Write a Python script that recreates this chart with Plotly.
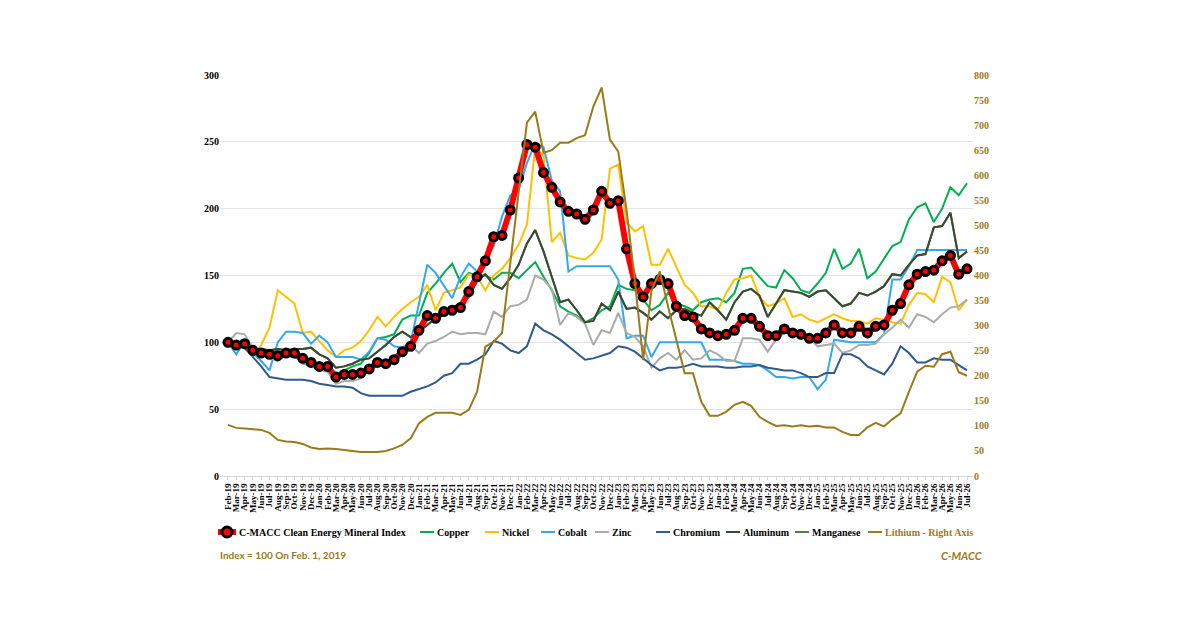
import pandas as pd
import plotly.graph_objects as go

# Meses (Feb-19 .. Jul-26)
months = pd.date_range("2019-02-01", periods=90, freq="MS").strftime("%b-%y").tolist()

# Series (indice = 100 en Feb-19)
index_vals = [100, 98, 99, 94, 92, 91, 90, 92, 92, 88, 85, 82, 82, 74, 76, 76, 77, 80, 85, 84, 87, 93, 97,
              109, 120, 118, 123, 124, 126, 138, 149, 161, 179, 180, 199, 223, 248, 246, 227, 216, 205, 198, 196, 192, 199,
              213, 204, 206, 170, 144, 134, 144, 147, 144, 127, 120, 119, 110, 107, 105, 106, 109, 118, 118, 112, 105, 105, 110,
              107, 106, 103, 103, 107, 113, 107, 107, 112, 107, 112, 113, 124, 129, 143, 151, 153, 154, 161, 165, 151, 155]
copper = [100, 97, 96, 93, 91, 90, 89, 90, 89, 86, 86, 82, 79, 76, 79, 82, 84, 92, 103, 104, 106, 117, 120,
          120, 137, 144, 152, 159, 145, 152, 150, 150, 147, 152, 152, 148, 154, 160, 149, 139, 127, 123, 120, 115, 118,
          124, 127, 143, 140, 139, 132, 124, 128, 137, 129, 127, 124, 130, 132, 133, 130, 137, 155, 156, 149, 142, 141, 154,
          148, 139, 137, 144, 152, 170, 155, 159, 170, 148, 153, 163, 172, 175, 192, 201, 204, 190, 200, 216, 210, 219]
nickel = [100, 98, 95, 90, 98, 111, 139, 134, 129, 107, 108, 101, 94, 89, 94, 96, 101, 109, 119, 112, 119, 125, 130,
          134, 143, 124, 137, 139, 141, 151, 149, 139, 150, 155, 163, 173, 188, 246, 240, 175, 182, 165, 163, 162, 167,
          177, 230, 233, 190, 183, 187, 158, 158, 170, 157, 143, 137, 127, 127, 124, 137, 147, 148, 150, 134, 127, 129, 133,
          119, 121, 117, 115, 118, 121, 118, 116, 116, 114, 118, 117, 115, 114, 128, 137, 136, 130, 149, 145, 124, 132]
cobalt = [100, 91, 101, 92, 86, 79, 100, 108, 108, 107, 99, 105, 100, 89, 89, 89, 87, 93, 103, 102, 97, 96, 100,
          128, 158, 152, 142, 133, 149, 159, 153, 162, 172, 194, 210, 214, 234, 249, 246, 221, 213, 153, 157, 157, 157,
          157, 157, 147, 103, 105, 105, 89, 100, 100, 100, 100, 100, 100, 87, 87, 87, 86, 84, 84, 83, 79, 74, 74,
          73, 74, 74, 65, 72, 102, 101, 100, 100, 100, 100, 106, 147, 147, 157, 169, 169, 169, 169, 169, 169, 169]
zinc = [100, 107, 106, 96, 91, 88, 86, 94, 91, 84, 83, 79, 78, 69, 71, 71, 73, 79, 86, 84, 88, 96, 98,
        92, 99, 101, 104, 108, 106, 107, 107, 106, 123, 119, 127, 128, 132, 150, 147, 140, 113, 122, 119, 114, 98,
        109, 107, 122, 107, 104, 97, 81, 88, 92, 87, 94, 87, 88, 94, 91, 86, 86, 103, 103, 102, 93, 102, 107,
        108, 109, 103, 97, 98, 99, 92, 94, 98, 98, 99, 106, 111, 117, 111, 121, 119, 115, 121, 126, 127, 132]
chromium = [100, 97, 96, 89, 82, 74, 73, 72, 72, 72, 71, 69, 68, 67, 67, 66, 62, 60, 60, 60, 60, 60, 63,
            65, 67, 70, 75, 77, 84, 84, 87, 91, 101, 99, 94, 92, 97, 114, 109, 106, 102, 97, 92, 87, 88,
            90, 92, 97, 96, 93, 88, 83, 79, 81, 81, 82, 84, 82, 82, 82, 81, 81, 82, 82, 83, 81, 80, 79,
            79, 77, 74, 74, 77, 77, 91, 91, 88, 82, 79, 76, 84, 97, 92, 85, 85, 88, 87, 87, 83, 79]
aluminum = [100, 98, 100, 95, 95, 94, 95, 94, 95, 95, 96, 91, 88, 81, 82, 84, 87, 88, 93, 98, 104, 108, 104,
            108, 113, 118, 122, 126, 129, 134, 146, 151, 143, 140, 148, 158, 174, 184, 168, 149, 130, 132, 124, 115, 116,
            129, 124, 138, 125, 126, 122, 117, 123, 118, 124, 125, 122, 120, 130, 124, 117, 130, 138, 140, 135, 119, 129, 139,
            138, 137, 134, 138, 139, 133, 127, 129, 137, 135, 138, 142, 151, 150, 158, 165, 166, 186, 187, 197, 163, 168]
# manganeso queda tapado por aluminio en la grafica original
manganese = [100, 98, 100, 95, 95, 94, 95, 94, 95, 95, 96, 91, 88, 81, 82, 84, 87, 88, 93, 98, 104, 108, 104,
             108, 113, 118, 122, 126, 129, 134, 146, 151, 143, 140, 148, 158, 174, 184, 168, 149, 130, 132, 124, 115, 116,
             129, 124, 138, 125, 126, 122, 117, 123, 118, 124, 125, 122, 120, 130, 124, 117, 130, 138, 140, 135, 119, 129, 139,
             138, 137, 134, 138, 139, 133, 127, 129, 137, 135, 138, 142, 151, 150, 158, 165, 166, 186, 187, 197, 163, 168]
lithium = [102, 96, 95, 94, 92, 86, 72, 69, 68, 64, 57, 54, 55, 54, 52, 50, 48, 48, 48, 50, 55, 62, 75,
           105, 118, 126, 126, 126, 122, 132, 168, 258, 268, 285, 425, 565, 705, 727, 645, 650, 665, 665, 674, 680, 737,
           775, 671, 647, 530, 390, 231, 370, 408, 338, 271, 205, 205, 148, 120, 120, 128, 142, 148, 140, 118, 108, 100, 101,
           99, 101, 99, 100, 97, 97, 88, 82, 82, 97, 106, 99, 113, 125, 168, 208, 220, 218, 243, 248, 207, 200]

GOLD = "#9C7A1C"
SERIF = "Liberation Serif"

# nombre, datos, color (primer eje)
metals = [
    ("Copper", copper, "#00B050"),
    ("Nickel", nickel, "#FFC000"),
    ("Cobalt", cobalt, "#33A8F0"),
    ("Zinc", zinc, "#A8ADA8"),
    ("Chromium", chromium, "#2F5A8C"),
    ("Manganese", manganese, "#4F7F3F"),
    ("Aluminum", aluminum, "#3A4A36"),
]

x = list(range(len(months)))
fig = go.Figure()

for name, vals, col in metals:
    fig.add_trace(go.Scatter(x=x, y=vals, mode="lines", name=name,
                             line=dict(color=col, width=2), showlegend=False))

fig.add_trace(go.Scatter(
    x=x, y=index_vals, mode="lines+markers", name="C-MACC Clean Energy Mineral Index",
    line=dict(color="#FF0000", width=6),
    marker=dict(symbol="circle", size=8, color="#FF0000", line=dict(color="black", width=3)),
    showlegend=False))

fig.add_trace(go.Scatter(x=x, y=lithium, mode="lines", name="Lithium - Right Axis", yaxis="y2",
                         line=dict(color=GOLD, width=2), showlegend=False))

# area de trazado en pixeles de pantalla (la pagina tiene 8px de margen)
OFF = 8
L, T, W, H = 220 - OFF, 75 - OFF, 753, 401


def pxx(p):
    return (p - OFF - L) / W


def pxy(p):
    return (T + H - (p - OFF)) / H


# leyenda manual (mas compacta que la de plotly)
legend_items = [
    ("C-MACC Clean Energy Mineral Index", "#FF0000", 218, 18, "black"),
    ("Copper", "#00B050", 420, 14, "black"),
    ("Nickel", "#FFC000", 485, 14, "black"),
    ("Cobalt", "#33A8F0", 541, 14, "black"),
    ("Zinc", "#A8ADA8", 595, 14, "black"),
    ("Chromium", "#2F5A8C", 656, 14, "black"),
    ("Aluminum", "#3A4A36", 726, 14, "black"),
    ("Manganese", "#4F7F3F", 795, 14, "black"),
    ("Lithium - Right Axis", GOLD, 868, 14, GOLD),
]
shapes = []
annotations = []
ly = 532
for i, (txt, col, x0, ln, tcol) in enumerate(legend_items):
    shapes.append(dict(type="line", xref="paper", yref="paper",
                       x0=pxx(x0), x1=pxx(x0 + ln), y0=pxy(ly), y1=pxy(ly),
                       line=dict(color=col, width=6 if i == 0 else 2)))
    annotations.append(dict(text=txt, xref="paper", yref="paper", x=pxx(x0 + ln + 1), y=pxy(ly),
                            xanchor="left", yanchor="middle", showarrow=False,
                            font=dict(family=SERIF, size=10, color=tcol, weight="bold")))
# marcador del indice en la leyenda
shapes.append(dict(type="circle", xref="paper", yref="paper", xsizemode="pixel", ysizemode="pixel",
                   xanchor=pxx(227), yanchor=pxy(ly), x0=-5, x1=5, y0=-5, y1=5,
                   fillcolor="#FF0000", line=dict(color="black", width=3)))

annotations.append(dict(text="Index = 100 On Feb. 1, 2019", xref="paper", yref="paper",
                        x=pxx(218), y=pxy(555), xanchor="left", yanchor="middle", showarrow=False,
                        font=dict(family="Lato", size=10, color=GOLD, weight="bold")))
annotations.append(dict(text="<i>C-MACC</i>", xref="paper", yref="paper",
                        x=pxx(985), y=pxy(555), xanchor="right", yanchor="middle", showarrow=False,
                        font=dict(family="Lato", size=11, color=GOLD, weight="bold")))

fig.update_layout(
    width=1200, height=627,
    margin=dict(l=L, r=1200 - L - W, t=T, b=627 - T - H),
    plot_bgcolor="white", paper_bgcolor="white",
    showlegend=False,
    shapes=shapes, annotations=annotations,
    xaxis=dict(range=[-0.96, 89.72], tickmode="array", tickvals=x, ticktext=months,
               tickangle=-90, tickfont=dict(family=SERIF, size=9, color="black", weight="bold"),
               showgrid=False, zeroline=False, showline=True, linecolor="#D9D9D9",
               ticks="outside", ticklen=3, tickcolor="#D9D9D9"),
    yaxis=dict(range=[0, 300], dtick=50, showgrid=True, gridcolor="#E4E4E4", gridwidth=1,
               zeroline=False, showline=False, ticks="",
               tickfont=dict(family=SERIF, size=10, color="black", weight="bold")),
    yaxis2=dict(range=[0, 800], dtick=50, overlaying="y", side="right", showgrid=False,
                zeroline=False, showline=False, ticks="",
                tickfont=dict(family=SERIF, size=10, color=GOLD, weight="bold")),
)

fig.write_html("out.html")
